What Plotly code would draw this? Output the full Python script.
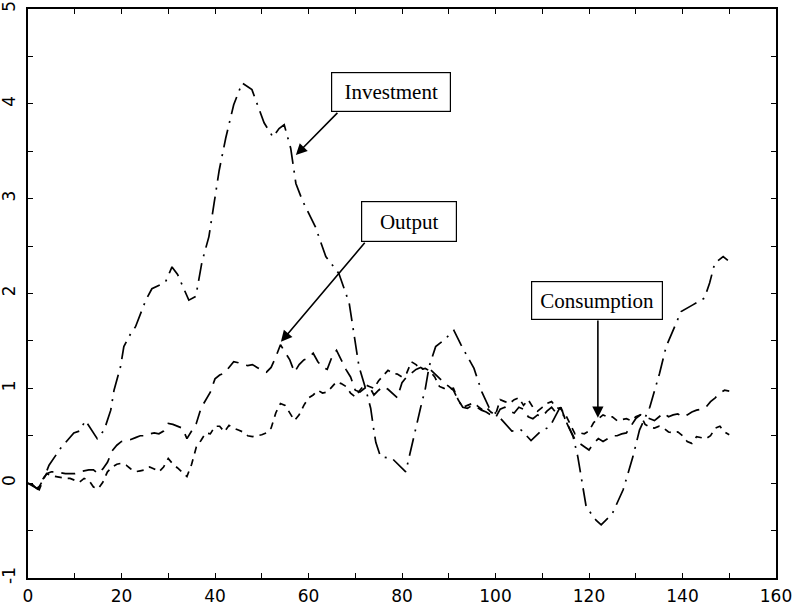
import plotly.graph_objects as go

# ---------------- data ----------------
inv_t = [0, 1, 2.4, 4.5, 7, 9.8, 11, 12.3, 14.8, 16.3, 17.7, 18.4, 19.8, 20.5, 22, 23,
         25.2, 26.5, 28, 29.4, 30.8, 32, 34.4, 35.9, 37.2, 38.7, 39.8, 40.9, 42.3, 44,
         45.8, 47.9, 49, 50.5, 52.4, 53.7, 54.8, 56.2, 57.3, 58.7, 61.5, 63.7, 66.5,
         68.7, 69.7, 70.8, 72.2, 73.3, 74, 74.4, 75.4, 77.9, 80.8, 81.6, 82.6, 83.2,
         84, 85, 85.8, 87.2, 89, 91.1, 92.6, 94.3, 95.4, 96, 97.1, 98.6, 100, 101.5,
         103.5, 105.5, 107.6, 109.5, 111, 112, 113.8, 115, 116.6, 117.6, 118.8, 119.4,
         121.5, 122.6, 125, 127.3, 129.4, 130.8, 133, 135.1, 136.5, 138.3, 139.7,
         142.2, 144.7, 145.8, 146.9, 148.7, 149.7]
investment = [0, -0.03, -0.07, 0.19, 0.37, 0.53, 0.55, 0.66, 0.47, 0.56, 0.77, 0.98, 1.23,
              1.44, 1.58, 1.65, 1.93, 2.05, 2.09, 2.12, 2.28, 2.2, 1.93, 1.97, 2.33, 2.6,
              2.95, 3.3, 3.64, 3.99, 4.22, 4.15, 4.0, 3.8, 3.65, 3.74, 3.78, 3.53, 3.16,
              2.98, 2.7, 2.39, 2.21, 1.9, 1.58, 1.23, 1.0, 0.79, 0.55, 0.43, 0.28, 0.26,
              0.12, 0.3, 0.53, 0.63, 0.8, 1.0, 1.23, 1.44, 1.51, 1.61, 1.46, 1.3, 1.21,
              1.12, 0.96, 0.8, 0.74, 0.66, 0.55, 0.56, 0.45, 0.54, 0.58, 0.63, 0.8, 0.66,
              0.49, 0.28, -0.1, -0.25, -0.39, -0.44, -0.32, -0.07, 0.28, 0.56, 0.8, 1.16,
              1.44, 1.65, 1.81, 1.88, 1.95, 2.11, 2.32, 2.39, 2.35]

quarters = list(range(0, 151))
output = [0, -0.02, -0.06, 0.03, 0.1, 0.12, 0.12, 0.11, 0.1, 0.1, 0.1, 0.12, 0.13, 0.14,
          0.14, 0.1, 0.15, 0.22, 0.34, 0.4, 0.44, 0.45, 0.46, 0.48, 0.5, 0.5, 0.52, 0.53,
          0.52, 0.55, 0.63, 0.62, 0.6, 0.58, 0.47, 0.55, 0.63, 0.79, 0.88, 0.96, 1.1,
          1.14, 1.16, 1.22, 1.28, 1.27, 1.25, 1.24, 1.25, 1.22, 1.19, 1.17, 1.22, 1.33,
          1.46, 1.38, 1.3, 1.17, 1.25, 1.3, 1.32, 1.37, 1.28, 1.22, 1.2, 1.33, 1.4, 1.3,
          1.2, 1.12, 0.98, 0.96, 1.0, 1.02, 0.93, 0.98, 1.02, 0.99, 0.95, 0.9, 1.06, 1.12,
          1.16, 1.2, 1.22, 1.19, 1.2, 1.15, 1.1, 1.06, 1.02, 0.98, 0.88, 0.8, 0.79, 0.82,
          0.8, 0.77, 0.75, 0.72, 0.69, 0.78, 0.8, 0.76, 0.74, 0.8, 0.78, 0.7, 0.68, 0.72,
          0.7, 0.76, 0.8, 0.74, 0.8, 0.66, 0.56, 0.46, 0.42, 0.38, 0.35, 0.42, 0.47, 0.44,
          0.47, 0.5, 0.5, 0.52, 0.53, 0.6, 0.68, 0.72, 0.7, 0.68, 0.66, 0.7, 0.74, 0.7,
          0.72, 0.73, 0.7, 0.72, 0.75, 0.77, 0.78, 0.8, 0.86, 0.9, 0.95, 0.98, 0.97]
consumption = [0, -0.02, -0.07, 0.02, 0.1, 0.08, 0.07, 0.06, 0.05, 0.05, 0.03, 0.01, 0.05,
               0.03, -0.04, -0.06, 0.01, 0.12, 0.17, 0.2, 0.21, 0.19, 0.15, 0.12, 0.13,
               0.14, 0.17, 0.15, 0.12, 0.17, 0.26, 0.2, 0.16, 0.12, 0.07, 0.2, 0.38, 0.45,
               0.53, 0.52, 0.6, 0.6, 0.54, 0.61, 0.58, 0.56, 0.54, 0.5, 0.49, 0.5, 0.51,
               0.53, 0.58, 0.74, 0.84, 0.82, 0.74, 0.66, 0.72, 0.82, 0.9, 0.93, 0.98, 0.95,
               0.96, 1.02, 1.07, 1.05, 1.02, 0.95, 0.91, 0.98, 1.04, 1.02, 1.0, 1.08, 1.14,
               1.19, 1.16, 1.15, 1.12, 1.16, 1.28, 1.25, 1.2, 1.21, 1.18, 1.12, 1.02, 1.0,
               0.99, 1.0, 0.88, 0.8, 0.82, 0.84, 0.82, 0.78, 0.8, 0.75, 0.72, 0.88, 0.86,
               0.84, 0.88, 0.9, 0.82, 0.88, 0.8, 0.76, 0.8, 0.84, 0.86, 0.8, 0.78, 0.72,
               0.62, 0.52, 0.53, 0.52, 0.55, 0.64, 0.68, 0.72, 0.7, 0.7, 0.66, 0.67, 0.68,
               0.66, 0.7, 0.72, 0.62, 0.59, 0.58, 0.6, 0.58, 0.54, 0.53, 0.54, 0.5, 0.44,
               0.42, 0.49, 0.48, 0.47, 0.5, 0.58, 0.6, 0.54, 0.51, 0.5]

x_ticks = list(range(0, 161, 10))
x_labels = [str(v) if v % 20 == 0 else "" for v in x_ticks]
y_ticks = [-1, -0.5, 0, 0.5, 1, 1.5, 2, 2.5, 3, 3.5, 4, 4.5, 5]
y_labels = [str(int(v)) if float(v).is_integer() else "" for v in y_ticks]

labels = ["Investment", "Output", "Consumption"]
arrow_heads = [(57.3, 3.46), (54.1, 1.49), (121.9, 0.69)]
arrow_tails = [(66.5, 3.92), (72.3, 2.55), (121.9, 1.73)]
box_centers = [(77.6, 4.12), (81.5, 2.76), (121.7, 1.93)]
box_sizes = [(116, 36), (92, 37), (128, 35)]

# ---------------- figure ----------------
fig = go.Figure()
fig.add_trace(go.Scatter(x=inv_t, y=investment, mode="lines", name="Investment",
                         line=dict(color="black", width=1.7, dash="18px,7px,2px,7px")))
fig.add_trace(go.Scatter(x=quarters, y=output, mode="lines", name="Output",
                         line=dict(color="black", width=1.7, dash="14px,8px")))
fig.add_trace(go.Scatter(x=quarters, y=consumption, mode="lines", name="Consumption",
                         line=dict(color="black", width=1.7, dash="7px,6px")))

for lab, (hx, hy), (tx, ty), (cx, cy), (w, h) in zip(labels, arrow_heads, arrow_tails,
                                                      box_centers, box_sizes):
    fig.add_annotation(x=hx, y=hy, ax=tx, ay=ty, axref="x", ayref="y", xref="x", yref="y",
                       text="", showarrow=True, arrowhead=2, arrowsize=1.4,
                       arrowwidth=1.6, arrowcolor="black")
    fig.add_annotation(x=cx, y=cy, xref="x", yref="y", text=lab, showarrow=False,
                       font=dict(family="Liberation Serif, Times New Roman, serif",
                                 size=21, color="black"),
                       bgcolor="white", bordercolor="black", borderwidth=1.2,
                       width=w, height=h, align="center", valign="middle")

axis_common = dict(showline=True, linecolor="black", linewidth=2, mirror="ticks",
                   ticks="inside", ticklen=5, tickwidth=1.2, tickcolor="black",
                   showgrid=False, zeroline=False, automargin=False,
                   tickfont=dict(family="DejaVu Sans, sans-serif", size=17,
                                 color="black"))

fig.update_layout(
    width=794, height=609,
    margin=dict(l=28, r=18, t=9, b=31),
    paper_bgcolor="white", plot_bgcolor="white",
    showlegend=False,
    xaxis=dict(range=[0, 160], tickmode="array", tickvals=x_ticks, ticktext=x_labels,
               ticklabelstandoff=2, **axis_common),
    yaxis=dict(range=[-1, 5], tickmode="array", tickvals=y_ticks, ticktext=y_labels,
               tickangle=-90, ticklabelstandoff=4, **axis_common),
)

fig.write_html("out.html")
